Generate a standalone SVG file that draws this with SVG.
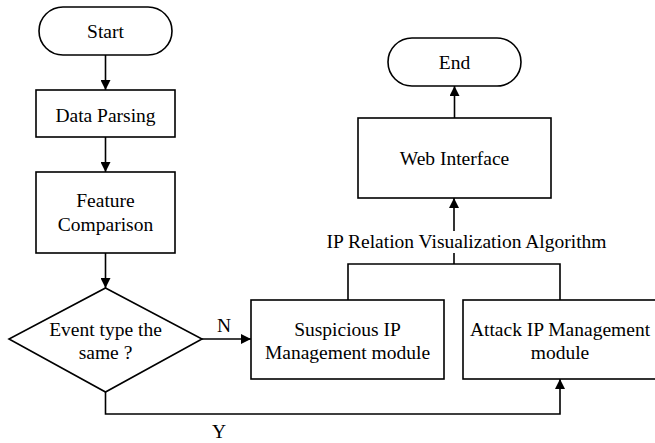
<svg xmlns="http://www.w3.org/2000/svg" width="655" height="443" viewBox="0 0 655 443">
<defs>
<marker id="arr" viewBox="0 0 10 10" refX="10" refY="5" markerWidth="10" markerHeight="10" markerUnits="userSpaceOnUse" orient="auto">
<path d="M0,0 L10,5 L0,10 Z" fill="#000"/>
</marker>
<style>
.s{fill:#fff;stroke:#000;stroke-width:1.6}
.c{fill:none;stroke:#000;stroke-width:1.6}
text{font-family:"Liberation Serif","Times New Roman",serif;font-size:19.5px;fill:#000;text-anchor:middle}
</style>
</defs>
<rect width="655" height="443" fill="#fff"/>
<g id="start"><rect class="s" x="39" y="7" width="133" height="48" rx="24" ry="24"/><text x="105.5" y="38">Start</text></g>
<g id="parse"><rect class="s" x="36" y="90" width="139" height="47"/><text x="105.5" y="122">Data Parsing</text></g>
<g id="feature"><rect class="s" x="36" y="172" width="139" height="81"/><text x="105.5" y="207">Feature</text><text x="105.5" y="231">Comparison</text></g>
<g id="decision"><polygon class="s" points="105.5,288 202,339 105.5,392 9,339"/><text x="105.5" y="336">Event type the</text><text x="105.5" y="359">same ?</text></g>
<g id="suspicious"><rect class="s" x="251" y="300" width="193" height="79"/><text x="347.5" y="336">Suspicious IP</text><text x="347.5" y="359">Management module</text></g>
<g id="attack"><rect class="s" x="463" y="300" width="194" height="79"/><text x="560" y="336">Attack IP Management</text><text x="560" y="359">module</text></g>
<g id="web"><rect class="s" x="358" y="118" width="193" height="80"/><text x="454.5" y="165">Web Interface</text></g>
<g id="end"><rect class="s" x="388" y="38" width="133" height="48" rx="24" ry="24"/><text x="454.5" y="69">End</text></g>
<g id="algo"><text x="466.5" y="248">IP Relation Visualization Algorithm</text></g>
<g id="connectors">
<line class="c" x1="105.5" y1="55" x2="105.5" y2="90" marker-end="url(#arr)"/>
<line class="c" x1="105.5" y1="137" x2="105.5" y2="172" marker-end="url(#arr)"/>
<line class="c" x1="105.5" y1="253" x2="105.5" y2="288" marker-end="url(#arr)"/>
<line class="c" x1="202" y1="339" x2="251" y2="339" marker-end="url(#arr)"/>
<polyline class="c" points="105.5,392 105.5,414 560,414 560,379" marker-end="url(#arr)"/>
<polyline class="c" points="348,300 348,264 560,264 560,300"/>
<line class="c" x1="454" y1="264" x2="454" y2="253"/>
<line class="c" x1="454" y1="231" x2="454" y2="198" marker-end="url(#arr)"/>
<line class="c" x1="454.5" y1="118" x2="454.5" y2="86" marker-end="url(#arr)"/>
<text x="224" y="332">N</text>
<text x="219" y="438">Y</text>
</g>
</svg>
